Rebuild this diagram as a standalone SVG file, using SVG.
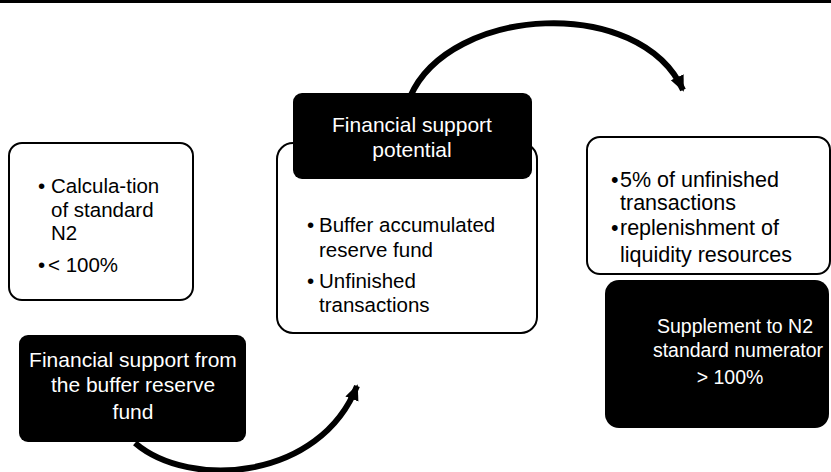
<svg xmlns="http://www.w3.org/2000/svg" width="831" height="472" viewBox="0 0 831 472">
<defs>
<style>
.wbox{fill:#fff;stroke:#000;stroke-width:2}
.bbox{fill:#000}
.t{font-family:"Liberation Sans","DejaVu Sans",sans-serif;font-size:20.5px;fill:#000}
.tr{font-size:21.5px}
.tw{font-family:"Liberation Sans","DejaVu Sans",sans-serif;font-size:21px;fill:#fff;text-anchor:middle}
.ts{font-size:19.5px}
.arc{fill:none;stroke:#000;stroke-width:6;marker-end:url(#ah)}
</style>
<marker id="ah" markerUnits="userSpaceOnUse" markerWidth="18" markerHeight="18" viewBox="0 0 18 18" refX="14" refY="9" orient="auto">
<path d="M0,2 L16,9 L0,16 Z" fill="#000"/>
</marker>
</defs>
<rect x="0" y="0" width="831" height="3" fill="#000"/>
<g id="connectors">
<path class="arc" d="M410,97 C450,5 640,-5 683,90"/>
<path class="arc" d="M135,443 C190,490 320,480 357,386"/>
</g>
<g id="node-calc">
<rect class="wbox" x="9" y="143" width="184" height="157" rx="13"/>
<text class="t" x="38" y="193">•</text>
<text class="t" x="51" y="193">Calcula-tion</text>
<text class="t" x="51" y="217">of standard</text>
<text class="t" x="51" y="240">N2</text>
<text class="t" x="38" y="272">•</text>
<text class="t" x="48" y="272">&lt; 100%</text>
</g>
<g id="node-potential-body">
<rect class="wbox" x="277" y="143" width="260" height="190" rx="16"/>
<text class="t" x="307" y="232">•</text>
<text class="t" x="319" y="232">Buffer accumulated</text>
<text class="t" x="319" y="257">reserve fund</text>
<text class="t" x="307" y="288">•</text>
<text class="t" x="319" y="288">Unfinished</text>
<text class="t" x="319" y="312">transactions</text>
</g>
<g id="node-potential">
<rect class="bbox" x="293" y="93" width="239" height="86" rx="9"/>
<text class="tw" x="412" y="132">Financial support</text>
<text class="tw" x="412" y="157">potential</text>
</g>
<g id="node-unfinished">
<rect class="wbox" x="587" y="137" width="243" height="137" rx="13"/>
<text class="t tr" x="611" y="187">•</text>
<text class="t tr" x="620" y="187">5% of unfinished</text>
<text class="t tr" x="620" y="210">transactions</text>
<text class="t tr" x="611" y="235">•</text>
<text class="t tr" x="620" y="235">replenishment of</text>
<text class="t tr" x="620" y="262">liquidity resources</text>
</g>
<g id="node-supplement">
<rect class="bbox" x="605" y="280" width="224" height="148" rx="14"/>
<text class="tw ts" x="735" y="333">Supplement to N2</text>
<text class="tw ts" x="738" y="357">standard numerator</text>
<text class="tw ts" x="730" y="384">&gt; 100%</text>
</g>
<g id="node-buffer">
<rect class="bbox" x="19" y="335" width="227" height="107" rx="9"/>
<text class="tw" x="133" y="367">Financial support from</text>
<text class="tw" x="133" y="392">the buffer reserve</text>
<text class="tw" x="133" y="419">fund</text>
</g>
</svg>
